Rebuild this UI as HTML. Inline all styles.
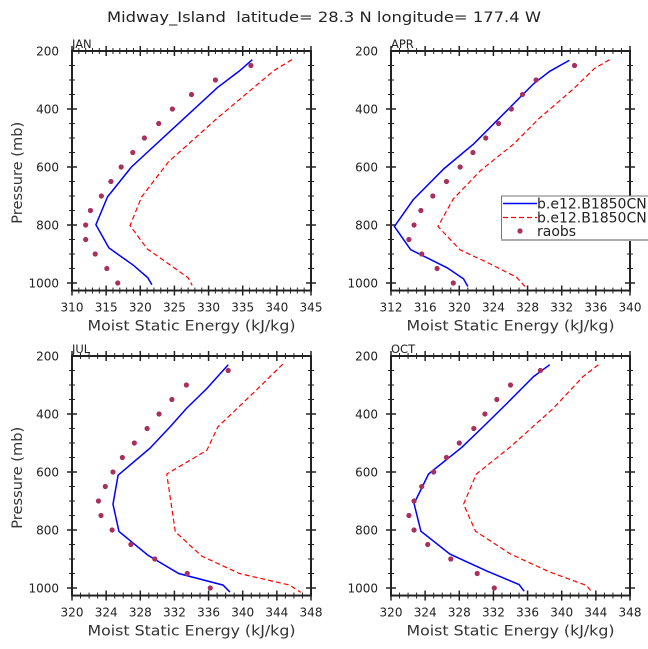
<!DOCTYPE html>
<html><head><meta charset="utf-8">
<style>
html,body{margin:0;padding:0;background:#fff;}
svg{display:block;font-family:"DejaVu Sans","Liberation Sans",sans-serif;}
text{white-space:pre;}
</style></head>
<body>
<svg id="fig" width="648" height="649" viewBox="0 0 648 649">
<text x="324" y="22" text-anchor="middle" font-size="14" textLength="434" lengthAdjust="spacingAndGlyphs" fill="#222">Midway_Island  latitude= 28.3 N longitude= 177.4 W</text>
</svg>
<script>
// ---- data ----
const obsP = [250,300,350,400,450,500,550,600,650,700,750,800,850,900,950,1000];
const janCtlP = [230,269,326,600,703,799,879,939,982,1006];
const janCtlX = [336.4,334.5,331.3,318.7,315.2,313.5,315.4,319.0,321.1,321.7];
const janExpP = [230,267,433,583,703,802,882,945,982,1008];
const janExpX = [342.2,339.6,331.2,324.1,320.2,318.5,321.0,324.8,327.0,327.6];
const janObs = [336.2,331.0,327.5,324.7,322.7,320.6,318.9,317.2,315.7,314.3,312.7,312.0,312.0,313.4,315.1,316.7];
const aprCtlP = [232,270,313,520,606,713,805,885,948,986,1012];
const aprCtlX = [332.9,330.6,328.7,321.7,318.2,314.6,312.4,314.3,318.6,320.5,321.0];
const aprExpP = [230,261,330,434,520,612,710,805,886,928,980,1012];
const aprExpX = [337.6,335.8,333.4,329.3,326.4,322.5,319.3,317.5,320.1,323.2,326.7,327.7];
const aprObs = [333.5,329.0,327.4,326.1,324.6,323.1,321.6,320.1,318.5,316.9,315.5,314.7,314.1,315.6,317.4,319.3];
const julCtlP = [230,312,381,444,519,611,711,805,887,950,990,1014];
const julCtlX = [338.3,335.8,333.4,331.5,329.1,325.4,324.8,325.5,328.9,332.5,337.7,338.5];
const julExpP = [228,323,444,525,607,806,890,950,990,1015];
const julExpX = [344.7,341.4,337.1,335.8,331.1,332.1,335.2,339.6,345.5,346.8];
const julObs = [338.3,333.4,331.7,330.2,328.8,327.3,325.9,324.8,323.9,323.1,323.4,324.7,326.9,329.7,333.5,336.2];
const octCtlP = [230,271,363,444,515,607,709,804,883,941,988,1011];
const octCtlX = [338.6,336.7,333.6,330.8,328.3,324.4,322.7,323.5,326.9,331.2,335.0,335.6];
const octExpP = [230,271,381,513,607,711,804,883,945,991,1013];
const octExpX = [344.3,342.5,339.0,334.0,330.0,328.5,329.9,334.0,338.6,342.9,343.5];
const octObs = [337.5,334.0,332.4,331.0,329.7,328.0,326.5,325.0,323.6,322.7,322.1,322.7,324.3,327.0,330.1,332.1];
const yTicks = [200,400,600,800,1000];

const NS = "http://www.w3.org/2000/svg";
const svg = document.getElementById('fig');
function mk(tag, attrs, parent){
  const e = document.createElementNS(NS, tag);
  for (const k in attrs) e.setAttribute(k, attrs[k]);
  (parent||svg).appendChild(e);
  return e;
}
const panels = [
  {name:'jan', label:'JAN', L:72, T:51, xmin:310, xmax:345, xstep:5, xminor:1, ctlP:janCtlP, ctlX:janCtlX, expP:janExpP, expX:janExpX, obs:janObs, ylab:true},
  {name:'apr', label:'APR', L:391, T:51, xmin:312, xmax:340, xstep:4, xminor:1, ctlP:aprCtlP, ctlX:aprCtlX, expP:aprExpP, expX:aprExpX, obs:aprObs, ylab:false},
  {name:'jul', label:'JUL', L:72, T:356, xmin:320, xmax:348, xstep:4, xminor:1, ctlP:julCtlP, ctlX:julCtlX, expP:julExpP, expX:julExpX, obs:julObs, ylab:true},
  {name:'oct', label:'OCT', L:391, T:356, xmin:320, xmax:348, xstep:4, xminor:1, ctlP:octCtlP, ctlX:octCtlX, expP:octExpP, expX:octExpX, obs:octObs, ylab:false}
];
const W = 239, PPM = 232/800, PMAX = 1026;
panels.forEach(p => {
  const g = mk('g', {});
  
  
  const B = p.T + (PMAX-200)*PPM;
  const sx = v => p.L + (v - p.xmin) / (p.xmax - p.xmin) * W;
  const sy = v => p.T + (v - 200) * PPM;
  const cid = 'clip-' + p.name;
  const cp = mk('clipPath', {id:cid}, g);
  mk('rect', {x:p.L, y:p.T, width:W, height:B-p.T}, cp);
  for (let v = 250; v <= 1000; v += 50) {
    const y = sy(v), major = yTicks.includes(v);
    const len = major ? 5 : 3;
    mk('line', {x1:p.L-len, x2:p.L+len, y1:y, y2:y, stroke:'#222', 'stroke-width':major?1.5:1}, g);
    mk('line', {x1:p.L+W-len, x2:p.L+W+len, y1:y, y2:y, stroke:'#222', 'stroke-width':major?1.5:1}, g);
  }
  for (let v = p.xmin; v <= p.xmax + 1e-6; v += p.xminor) {
    const x = sx(v), major = Math.abs((v - p.xmin) % p.xstep) < 1e-6;
    const len = major ? 5 : 3;
    mk('line', {x1:x, x2:x, y1:B-len, y2:B+len, stroke:'#222', 'stroke-width':major?1.5:1}, g);
    mk('line', {x1:x, x2:x, y1:p.T-len, y2:p.T+len, stroke:'#222', 'stroke-width':major?1.5:1}, g);
    if (major) {
      const t = mk('text', {x:x, y:B+21, 'text-anchor':'middle', 'font-size':12, fill:'#222'}, g);
      t.textContent = v;
      
      
    }
  }
  yTicks.forEach(v => {
    const t = mk('text', {x:p.L-13, y:sy(v)+4.5, 'text-anchor':'end', 'font-size':12, fill:'#222'}, g);
    t.textContent = v;
    
    
  });
  const fr = mk('rect', {x:p.L, y:p.T, width:W, height:B-p.T, fill:'none', stroke:'#222', 'stroke-width':2}, g);
  
  
  const lab = mk('text', {x:p.L, y:p.T-3, 'font-size':11.5, fill:'#222'}, g);
  lab.textContent = p.label;
  
  
  const xt = mk('text', {x:p.L+W/2, y:B+40, 'text-anchor':'middle', 'font-size':14, textLength:208, lengthAdjust:'spacingAndGlyphs', fill:'#333'}, g);
  xt.textContent = 'Moist Static Energy (kJ/kg)';
  
  
  if (p.ylab) {
    const cy = (p.T + B) / 2 + 2;
    const yt = mk('text', {x:22, y:cy, 'text-anchor':'middle', 'font-size':14, textLength:102, lengthAdjust:'spacingAndGlyphs', fill:'#333', transform:'rotate(-90 22 '+cy+')'}, g);
    yt.textContent = 'Pressure (mb)';
    
    
  }
  const dg = mk('g', {'clip-path':'url(#'+cid+')'}, g);
  const ctl = mk('polyline', {points:p.ctlP.map((v,i)=>sx(p.ctlX[i])+','+sy(v)).join(' '), fill:'none', stroke:'#0000ff', 'stroke-width':1.5}, dg);
  
  
  const ex = mk('polyline', {points:p.expP.map((v,i)=>sx(p.expX[i])+','+sy(v)).join(' '), fill:'none', stroke:'#ff0000', 'stroke-width':1.2, 'stroke-dasharray':'5,3'}, dg);
  
  
  obsP.forEach((v,i) => {
    const c = mk('circle', {cx:sx(p.obs[i]), cy:sy(v), r:2.6, fill:'#a8305f'}, dg);
    
    
  });
});
const lg = mk('g', {});


mk('rect', {x:501.5, y:196, width:160, height:44, fill:'#fff', stroke:'#777', 'stroke-width':1}, lg);
mk('line', {x1:501, x2:648, y1:240, y2:240, stroke:'#aaa', 'stroke-width':2}, lg);
const le1 = mk('line', {x1:503, x2:537, y1:203.5, y2:203.5, stroke:'#0000ff', 'stroke-width':1.5}, lg);


const le2 = mk('line', {x1:503, x2:537, y1:217.5, y2:217.5, stroke:'#ff0000', 'stroke-width':1.2, 'stroke-dasharray':'5,3'}, lg);


mk('circle', {cx:520, cy:231, r:2.6, fill:'#a8305f'}, lg);
[['b.e12.B1850CN.f19',208.5],['b.e12.B1850CN.f19',222.5],['raobs',236]].forEach(([s,y]) => {
  const t = mk('text', {x:537, y:y, 'font-size':14, fill:'#222'}, lg);
  t.textContent = s;
  
  
});
</script>
</body></html>
